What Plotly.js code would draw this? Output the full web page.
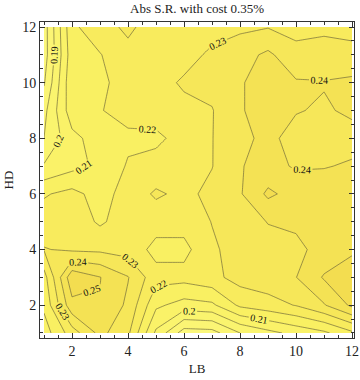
<!DOCTYPE html>
<html>
<head>
<meta charset="utf-8">
<script src="https://cdn.plot.ly/plotly-3.0.1.min.js"></script>
<style>
  body { margin: 0; background: #fff; }
  #myDiv { width: 360px; height: 380px; }
</style>
</head>
<body>
<div id="myDiv"></div>
<script>
// look-back (x) and holding period (y)
var lb = [1, 2, 3, 4, 5, 6, 7, 8, 9, 10, 11, 12];
var hd = [1, 2, 3, 4, 5, 6, 7, 8, 9, 10, 11, 12];

// abs sharpe ratio, one row per HD value, columns follow lb
var hd1  = [0.205, 0.225, 0.243, 0.232, 0.198, 0.175, 0.176, 0.190, 0.197, 0.203, 0.208, 0.218];
var hd2  = [0.212, 0.247, 0.2495, 0.238, 0.212, 0.206, 0.208, 0.222, 0.226, 0.2305, 0.2392, 0.252];
var hd3  = [0.216, 0.257, 0.2503, 0.2405, 0.2235, 0.2235, 0.227, 0.234, 0.236, 0.2398, 0.251, 0.257];
var hd4  = [0.2305, 0.2285, 0.228, 0.226, 0.217, 0.217, 0.2285, 0.234, 0.237, 0.238, 0.243, 0.248];
var hd5  = [0.225, 0.226, 0.2185, 0.225, 0.224, 0.224, 0.2303, 0.236, 0.2403, 0.2415, 0.246, 0.247];
var hd6  = [0.219, 0.223, 0.216, 0.224, 0.2315, 0.2275, 0.2325, 0.239, 0.252, 0.246, 0.245, 0.244];
var hd7  = [0.201, 0.207, 0.212, 0.221, 0.2235, 0.226, 0.2297, 0.2395, 0.243, 0.239, 0.2395, 0.241];
var hd8  = [0.190, 0.207, 0.215, 0.218, 0.218, 0.2235, 0.2297, 0.238, 0.242, 0.237, 0.236, 0.237];
var hd9  = [0.187, 0.216, 0.2195, 0.2235, 0.2245, 0.227, 0.2295, 0.239, 0.245, 0.2405, 0.239, 0.2415];
var hd10 = [0.179, 0.218, 0.218, 0.224, 0.226, 0.2315, 0.233, 0.239, 0.245, 0.241, 0.2405, 0.242];
var hd11 = [0.175, 0.216, 0.2195, 0.227, 0.226, 0.226, 0.232, 0.236, 0.242, 0.233, 0.234, 0.233];
var hd12 = [0.175, 0.218, 0.226, 0.232, 0.225, 0.224, 0.226, 0.228, 0.2295, 0.227, 0.228, 0.227];

var z = [hd1, hd2, hd3, hd4, hd5, hd6, hd7, hd8, hd9, hd10, hd11, hd12];

var serif = 'Liberation Serif, Times New Roman, serif';

var trace1 = {
  x: lb,
  y: hd,
  z: z,
  type: 'contour',
  showscale: false,
  zmin: 0.17,
  zmax: 0.26,
  colorscale: [[0, '#fbf77a'], [0.5, '#f9f062'], [1, '#f3dd50']],
  contours: {
    start: 0.18,
    end: 0.25,
    size: 0.01,
    coloring: 'fill',
    showlabels: true,
    labelformat: '.2~f',
    labelfont: {family: serif, size: 10, color: '#111'}
  },
  line: {color: 'rgba(100,94,55,0.7)', width: 0.9, smoothing: 0},
  hoverinfo: 'skip'
};

var axisStyle = {
  showgrid: false,
  zeroline: false,
  showline: true,
  linecolor: '#333',
  linewidth: 1,
  mirror: 'allticks',
  ticks: 'inside',
  ticklen: 5,
  tickwidth: 1,
  tickcolor: '#333',
  tick0: 0,
  dtick: 2,
  minor: {dtick: 0.5, tick0: 0, ticks: 'inside', ticklen: 3, tickcolor: '#333'},
  tickfont: {family: serif, size: 14, color: '#222'}
};

var layout = {
  width: 360,
  height: 380,
  margin: {l: 40, r: 6, t: 22, b: 42},
  paper_bgcolor: '#fff',
  plot_bgcolor: '#fff',
  title: {
    text: 'Abs S.R. with cost 0.35%',
    font: {family: serif, size: 13, color: '#222'},
    x: 0.5, xref: 'paper',
    y: 0.977, yref: 'container', yanchor: 'middle'
  },
  xaxis: Object.assign({}, axisStyle, {
    range: [0.857, 12.07],
    title: {text: 'LB', font: {family: serif, size: 13, color: '#222'}, standoff: 6}
  }),
  yaxis: Object.assign({}, axisStyle, {
    range: [0.82, 12.18],
    title: {text: 'HD', font: {family: serif, size: 13, color: '#222'}, standoff: 5}
  })
};

Plotly.newPlot('myDiv', [trace1], layout, {displayModeBar: false, staticPlot: true});
</script>
</body>
</html>
